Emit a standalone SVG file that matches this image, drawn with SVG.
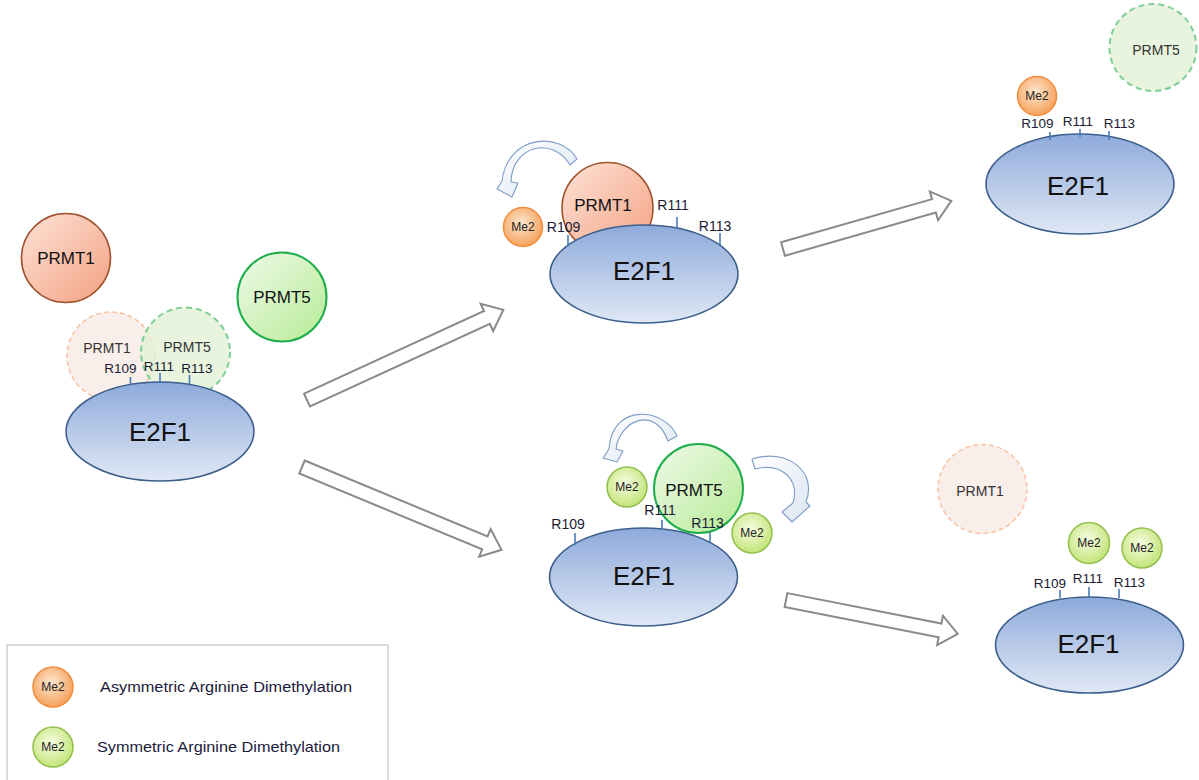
<svg xmlns="http://www.w3.org/2000/svg" width="1199" height="780" viewBox="0 0 1199 780">
<defs>
<linearGradient id="gE2F1" x1="0" y1="0" x2="0" y2="1"><stop offset="0" stop-color="#8eaadb"/><stop offset="1" stop-color="#e0e8f5"/></linearGradient>
<linearGradient id="gP1" x1="0" y1="0" x2="1" y2="1"><stop offset="0" stop-color="#fde2d6"/><stop offset="1" stop-color="#f4a183"/></linearGradient>
<linearGradient id="gP5" x1="0" y1="0" x2="1" y2="1"><stop offset="0" stop-color="#effaea"/><stop offset="1" stop-color="#b6eb95"/></linearGradient>
<radialGradient id="gMeO" cx="0.45" cy="0.4" r="0.6"><stop offset="0" stop-color="#fde6d0"/><stop offset="1" stop-color="#f5a25c"/></radialGradient>
<radialGradient id="gMeG" cx="0.45" cy="0.4" r="0.6"><stop offset="0" stop-color="#f7fde3"/><stop offset="1" stop-color="#c3e479"/></radialGradient>
<linearGradient id="gCurve" x1="0" y1="0" x2="1" y2="1"><stop offset="0" stop-color="#ffffff"/><stop offset="1" stop-color="#dbe5f2"/></linearGradient>
<style>
text{font-family:"Liberation Sans",Arial,sans-serif;fill:#111;}
.e2f1{fill:url(#gE2F1);stroke:#3c5f8c;stroke-width:1.6;}
.e2t{font-size:26px;text-anchor:middle;}
.p1{fill:url(#gP1);stroke:#a0522d;stroke-width:1.6;}
.p5{fill:url(#gP5);stroke:#1fae4b;stroke-width:2;}
.pt{font-size:17px;text-anchor:middle;}
.fp1{fill:#f9ebe6;fill-opacity:0.85;stroke:#f7c3a2;stroke-width:1.5;stroke-dasharray:5,3;}
.fp5{fill:#e2f1d4;fill-opacity:0.8;stroke:#7dcf96;stroke-width:2;stroke-dasharray:6,4;}
.ft{font-size:14px;text-anchor:middle;fill:#333;}
.meo{fill:url(#gMeO);stroke:#f28d3e;stroke-width:1.5;}
.meg{fill:url(#gMeG);stroke:#92bf4e;stroke-width:1.5;}
.met{font-size:12px;text-anchor:middle;fill:#222;}
.r{font-size:13.5px;text-anchor:middle;fill:#1a1a33;}
.tick{stroke:#4a7ab8;stroke-width:1.6;}
.blk{fill:#fff;stroke:#8a8a8a;stroke-width:2;stroke-linejoin:miter;}
.crv{fill:url(#gCurve);stroke:#7d9cc6;stroke-width:1.1;stroke-linejoin:round;}
.leg{font-size:15px;fill:#1a1a3a;}
</style>
</defs>
<rect width="1199" height="780" fill="#fff"/>

<g id="connectors">
<path class="blk" transform="translate(307,400) rotate(-24.66)" d="M0,-7 H198 V-15 L216,0 L198,15 V7 H0 Z"/>
<path class="blk" transform="translate(302,467) rotate(22.54)" d="M0,-7 H198 V-15 L216,0 L198,15 V7 H0 Z"/>
<path class="blk" transform="translate(783,249) rotate(-15.95)" d="M0,-7 H157 V-15 L175,0 L157,15 V7 H0 Z"/>
<path class="blk" transform="translate(786,600) rotate(11.18)" d="M0,-7 H157 V-15 L175,0 L157,15 V7 H0 Z"/>
<path class="crv" d="M577,159 C562,132 508,133 502,181 L497,189 L512,197 L518,183 L511,182 C512,145 553,136 570,165 Z"/>
<path class="crv" d="M677,436 C665,408 612,402 609,449 L603,458 L617,462 L623,451 L616,449 C620,420 655,405 668,441 Z"/>
<path class="crv" d="M752,459 C785,448 818,470 806,502 L810,506 L792,522 L782,512 L793,503 C800,480 782,462 755,469 Z"/>
</g>

<g id="group-initial">
<circle class="p1" cx="66" cy="258" r="44.5"/>
<text class="pt" x="66" y="264">PRMT1</text>
<circle class="p5" cx="282" cy="297" r="44.5"/>
<text class="pt" x="282" y="303">PRMT5</text>
<circle class="fp1" cx="111" cy="356" r="44"/>
<circle class="fp5" cx="185.5" cy="352" r="44.5"/>
<text class="ft" x="107" y="353">PRMT1</text>
<text class="ft" x="187" y="352">PRMT5</text>
<ellipse class="e2f1" cx="160" cy="431.5" rx="94" ry="49.5"/>
<line class="tick" x1="130.5" y1="377" x2="130.5" y2="385"/>
<line class="tick" x1="160" y1="373" x2="160" y2="382"/>
<line class="tick" x1="189.5" y1="375" x2="189.5" y2="384"/>
<text class="r" x="120.5" y="373">R109</text>
<text class="r" x="159" y="371">R111</text>
<text class="r" x="197" y="373">R113</text>
<text class="e2t" x="160" y="441">E2F1</text>
</g>

<g id="group-prmt1-bound">
<circle class="p1" cx="607.5" cy="208" r="45.5"/>
<text class="pt" x="603" y="211">PRMT1</text>
<ellipse class="e2f1" cx="644" cy="274" rx="94" ry="49"/>
<line class="tick" x1="568" y1="235" x2="568" y2="246"/>
<line class="tick" x1="677" y1="217" x2="677" y2="228"/>
<line class="tick" x1="720" y1="233" x2="720" y2="245"/>
<text class="r" x="563.5" y="232" style="font-size:14px">R109</text>
<text class="r" x="673" y="210" style="font-size:14px">R111</text>
<text class="r" x="715" y="231" style="font-size:14px">R113</text>
<text class="e2t" x="644" y="280">E2F1</text>
<circle class="meo" cx="523" cy="227" r="19.5"/>
<text class="met" x="523" y="231">Me2</text>
</g>

<g id="group-prmt5-bound">
<ellipse class="e2f1" cx="643.5" cy="577" rx="94" ry="49"/>
<circle class="p5" cx="698.5" cy="488.5" r="44.5"/>
<text class="pt" x="694" y="496">PRMT5</text>
<line class="tick" x1="575" y1="533" x2="575" y2="545"/>
<line class="tick" x1="662" y1="520" x2="662" y2="530"/>
<line class="tick" x1="710" y1="532" x2="710" y2="542"/>
<text class="r" x="568" y="529" style="font-size:14px">R109</text>
<text class="r" x="660" y="515" style="font-size:14px">R111</text>
<text class="r" x="707.5" y="528" style="font-size:14px">R113</text>
<text class="e2t" x="644" y="585">E2F1</text>
<circle class="meg" cx="627" cy="487" r="20"/>
<text class="met" x="627" y="491">Me2</text>
<circle class="meg" cx="752" cy="533" r="20"/>
<text class="met" x="752" y="537">Me2</text>
</g>

<g id="group-asym-result">
<circle class="fp5" cx="1153" cy="47.5" r="43.5"/>
<text class="ft" x="1156" y="55">PRMT5</text>
<circle class="meo" cx="1037" cy="96" r="19.5"/>
<text class="met" x="1037" y="100">Me2</text>
<ellipse class="e2f1" cx="1080" cy="184" rx="94" ry="50"/>
<line class="tick" x1="1050" y1="132" x2="1050" y2="140"/>
<line class="tick" x1="1080" y1="129" x2="1080" y2="137"/>
<line class="tick" x1="1109" y1="131" x2="1109" y2="140"/>
<text class="r" x="1037.5" y="128">R109</text>
<text class="r" x="1078" y="126">R111</text>
<text class="r" x="1119.5" y="128">R113</text>
<text class="e2t" x="1078" y="195">E2F1</text>
</g>

<g id="group-sym-result">
<circle class="fp1" cx="982.5" cy="489" r="44.5"/>
<text class="ft" x="980" y="496">PRMT1</text>
<circle class="meg" cx="1089" cy="543" r="20.5"/>
<text class="met" x="1089" y="547">Me2</text>
<circle class="meg" cx="1142" cy="548" r="20"/>
<text class="met" x="1142" y="552">Me2</text>
<ellipse class="e2f1" cx="1089.5" cy="645" rx="94" ry="48"/>
<line class="tick" x1="1060" y1="590" x2="1060" y2="598"/>
<line class="tick" x1="1089" y1="587" x2="1089" y2="597"/>
<line class="tick" x1="1119" y1="589" x2="1119" y2="598"/>
<text class="r" x="1050" y="588">R109</text>
<text class="r" x="1088" y="583">R111</text>
<text class="r" x="1129.5" y="587">R113</text>
<text class="e2t" x="1088.5" y="653">E2F1</text>
</g>

<g id="legend">
<rect x="7" y="645" width="381" height="140" fill="#fff" stroke="#d0d0d0" stroke-width="1.5"/>
<circle class="meo" cx="53" cy="687" r="20"/>
<text class="met" x="53" y="691">Me2</text>
<text class="leg" x="100" y="692" textLength="252" lengthAdjust="spacingAndGlyphs">Asymmetric Arginine Dimethylation</text>
<circle class="meg" cx="53" cy="747" r="20"/>
<text class="met" x="53" y="751">Me2</text>
<text class="leg" x="97" y="752" textLength="243" lengthAdjust="spacingAndGlyphs">Symmetric Arginine Dimethylation</text>
</g>
</svg>
